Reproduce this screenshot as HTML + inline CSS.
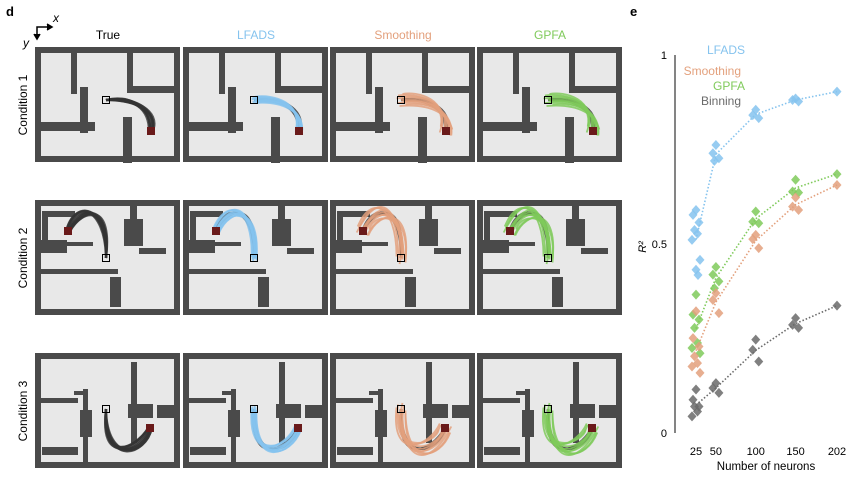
<!DOCTYPE html>
<html><head><meta charset="utf-8"><style>
body{margin:0;background:#fff;font-family:"Liberation Sans",Arial,sans-serif}
svg text{font-family:"Liberation Sans",Arial,sans-serif}
</style></head><body>
<svg id="fig" width="856" height="486" viewBox="0 0 856 486" xmlns="http://www.w3.org/2000/svg">
<text x="6" y="16" font-size="13" font-weight="bold">d</text>
<text x="630" y="16" font-size="13" font-weight="bold">e</text>
<g stroke="#000" stroke-width="1.5" fill="none">
<path d="M37,38 V27 H50"/><path d="M34,34 L37,39 L40,34 M47,24 L52,27 L47,30" fill="#000"/>
</g>
<text x="53" y="22" font-size="12" font-style="italic">x</text>
<text x="23" y="47" font-size="12" font-style="italic">y</text>
<g id="mazes"></g>
<g id="chart"></g>
</svg>
<script>
// ---- panel e data ----
const xCats=[25,50,100,150,202];
const lfads=[[0.59,0.577,0.557,0.537,0.527,0.511,0.458,0.432,0.418],[0.762,0.74,0.727,0.72],[0.855,0.841,0.833],[0.885,0.881,0.877],[0.903]];
const smoothing=[[0.322,0.251,0.229,0.203,0.185,0.176,0.159],[0.37,0.352,0.317],[0.524,0.513,0.489],[0.623,0.599,0.59],[0.656]];
const gpfa=[[0.366,0.313,0.3,0.278,0.238,0.225,0.211],[0.439,0.419,0.401,0.383],[0.586,0.559,0.555],[0.67,0.639,0.636],[0.685]];
const binning=[[0.115,0.088,0.07,0.07,0.057,0.044],[0.132,0.119,0.106],[0.247,0.22,0.189],[0.304,0.286,0.278],[0.337]];
const yTicks=[0,0.5,1];
const yTickLabels=["0","0.5","1"];
const seriesNames=["LFADS","Smoothing","GPFA","Binning"];

const NS="http://www.w3.org/2000/svg";
function mk(tag,attrs,parent){const e=document.createElementNS(NS,tag);for(const k in attrs)e.setAttribute(k,attrs[k]);parent.appendChild(e);return e;}
const X=v=>696+(v-25)*(837-696)/(202-25);
const Y=v=>433-v*378;
const chart=document.getElementById('chart');
const ax=mk('line',{x1:675,x2:675,y1:55,y2:433,stroke:'#333','stroke-width':1.2},chart);


yTicks.forEach((t,i)=>{const tx=mk('text',{x:667,y:Y(t)+4,'font-size':11,'text-anchor':'end'},chart);tx.textContent=yTickLabels[i];

});
xCats.forEach(c=>{const tx=mk('text',{x:X(c),y:455,'font-size':11,'text-anchor':'middle'},chart);tx.textContent=String(c);

});
const xt=mk('text',{x:766,y:470,'font-size':11.5,'text-anchor':'middle'},chart);xt.textContent='Number of neurons';


const yt=mk('text',{x:0,y:0,'font-size':11,'font-style':'italic',transform:'translate(646,247) rotate(-90)','text-anchor':'middle'},chart);yt.textContent='R²';


const cols=["#85c3ee","#e3a07c","#7fca5a","#6a6a6a"];
const all=[lfads,smoothing,gpfa,binning];
const jit=[0,-3,3,-1.5,1.5,-4,4,0,2];
all.slice().reverse().forEach((s,ri)=>{const si=3-ri;
 const pts=s.map((g,i)=>X(xCats[i])+','+Y(g.reduce((a,b)=>a+b,0)/g.length)).join(' ');
 const pl=mk('polyline',{points:pts,fill:'none',stroke:cols[si],'stroke-width':1.6,'stroke-dasharray':'1.5,2'},chart);
 
 
});
all.slice().reverse().forEach((s,ri)=>{const si=3-ri;
 s.forEach((g,i)=>g.forEach((v,j)=>{const cx=X(xCats[i])+(g.length>1?jit[j%jit.length]:0),cy=Y(v);
  const d=mk('path',{d:`M${cx},${cy-5} L${cx+4.5},${cy} L${cx},${cy+5} L${cx-4.5},${cy}Z`,fill:cols[si],'fill-opacity':0.85},chart);
  
  
 }));
});
const legY=[54,75,90,105];const legX=[745,741,745,741];
seriesNames.forEach((n,i)=>{const t=mk('text',{x:legX[i],y:legY[i],'font-size':12,'text-anchor':'end',fill:cols[i]},chart);t.textContent=n;

});

// ---- panel d mazes ----
const colX=[35,183,330,477];
const rowY=[47,200,353];
const colTitles=["True","LFADS","Smoothing","GPFA"];
const colTitleColors=["#000","#85c3ee","#e3a07c","#7fca5a"];
const walls=[
 [[36,0,6,47],[45,40,8,46],[0,75,60,9],[92,0,6,45],[92,39,53,7],[88,70,9,46]],
 [[7,11,33,6],[7,11,6,41],[5,40,27,13],[32,42,26,4],[95,0,7,19],[89,19,19,27],[104,48,27,6],[5,69,78,5],[75,77,11,30]],
 [[5,45,38,5],[39,38,9,4],[48,36,5,79],[45,57,12,27],[7,94,36,8],[96,9,6,81],[93,51,25,14],[122,52,23,13]]];
const starts=[[71,53],[71,58],[71,56]];
const ends=[[116,84],[33,31],[115,75]];
const c1s=[[95,50],[74,5],[68,112]];
const c2s=[[120,60],[45,2],[105,100]];
const mz=document.getElementById('mazes');
colTitles.forEach((t,i)=>{const e=mk('text',{x:colX[i]+73,y:39,'font-size':12,'text-anchor':'middle',fill:colTitleColors[i]},mz);e.textContent=t;

});
rowY.forEach((y0,r)=>{const e=mk('text',{x:0,y:0,'font-size':12,'text-anchor':'middle',transform:`translate(27,${y0+58}) rotate(-90)`},mz);e.textContent='Condition '+(r+1);

});
const off=[[0,0,0],[2,-2,3],[-2,2,-3],[3,3,4],[-3,-2,-4],[1,3,5],[-1,-3,-5],[4,-1,6],[-4,1,-6],[1,1,2]];
rowY.forEach((y0,r)=>colX.forEach((x0,c)=>{
 const g=mk('g',{transform:`translate(${x0},${y0})`},mz);
 
 
 mk('rect',{x:0,y:0,width:145,height:115,fill:'#4a4a4a'},g);
 mk('rect',{x:6,y:6,width:133,height:103,fill:'#e8e8e8'},g);
 walls[r].forEach(w=>mk('rect',{x:w[0],y:w[1],width:w[2],height:w[3],fill:'#4a4a4a'},g));
 const [sx,sy]=starts[r],[ex,ey]=ends[r],[ax1,ay1]=c1s[r],[ax2,ay2]=c2s[r];
 const nDark=c===0?10:3;
 for(let k=0;k<nDark;k++){const o=off[k];
  mk('path',{d:`M${sx},${sy} C${ax1+o[0]},${ay1+o[1]} ${ax2+o[2]},${ay2+o[0]} ${ex+o[0]*0.5},${ey+o[1]*0.5}`,fill:'none',stroke:'#333','stroke-width':2.2,'stroke-opacity':0.8},g);}
 if(c>0){const spread=c===1?0.8:1.5;
  for(let k=0;k<10;k++){const o=off[k];
   mk('path',{d:`M${sx+o[1]*spread},${sy+o[0]*spread} C${ax1+o[2]*spread},${ay1+o[0]*spread} ${ax2+o[1]*spread},${ay2+o[2]*spread} ${ex+o[2]*spread*0.7},${ey+o[1]*spread}`,fill:'none',stroke:colTitleColors[c],'stroke-width':1.8,'stroke-opacity':0.85},g);}
 }
 mk('rect',{x:ex-4,y:ey-4,width:8,height:8,fill:'#6a1a1a'},g);
 mk('rect',{x:sx-3.5,y:sy-3.5,width:7,height:7,fill:'none',stroke:'#000','stroke-width':1},g);
}));
</script>
</body></html>
